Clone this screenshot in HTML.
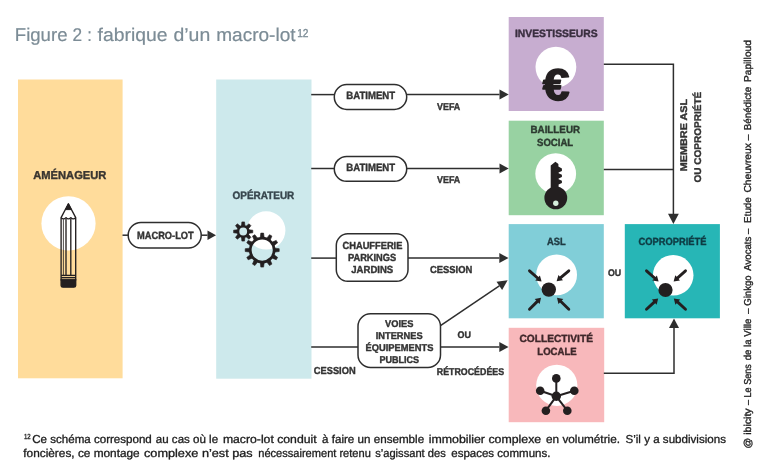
<!DOCTYPE html>
<html lang="fr">
<head>
<meta charset="utf-8">
<title>Figure 2 : fabrique d’un macro-lot</title>
<style>
html,body{margin:0;padding:0;background:#fff;}
body{width:768px;height:475px;overflow:hidden;font-family:"Liberation Sans",sans-serif;}
svg{display:block;will-change:transform;}
svg text{text-rendering:geometricPrecision;}
</style>
</head>
<body>
<svg width="768" height="475" viewBox="0 0 768 475">
<rect width="768" height="475" fill="#ffffff"/>
<rect x="18" y="79.5" width="104.6" height="298.8" fill="#ffdc9b"/>
<rect x="216.2" y="79.5" width="95.3" height="299.2" fill="#cde9ec"/>
<rect x="508.7" y="17" width="95.1" height="94" fill="#c7add0"/>
<rect x="508.7" y="120.7" width="95.1" height="94.5" fill="#98d2a2"/>
<rect x="508.7" y="224.1" width="95.1" height="94.2" fill="#81ced8"/>
<rect x="624.8" y="224.1" width="95.1" height="94.2" fill="#27b6b6"/>
<rect x="508.7" y="327.8" width="95.5" height="94.4" fill="#f8b8bb"/>
<circle cx="68.5" cy="223.4" r="27.1" fill="#fff"/>
<circle cx="266.2" cy="230.4" r="19.2" fill="#fff"/>
<circle cx="555.9" cy="67.1" r="20.4" fill="#fff"/>
<circle cx="555.7" cy="173.7" r="20.4" fill="#fff"/>
<circle cx="556.6" cy="274.9" r="20.4" fill="#fff"/>
<circle cx="673.2" cy="275.3" r="20.3" fill="#fff"/>
<circle cx="556.8" cy="385.3" r="20.6" fill="#fff"/>
<line x1="122.5" y1="235.2" x2="128.2" y2="235.2" stroke="#2e2e2e" stroke-width="1.5"/>
<rect x="128.2" y="222.6" width="73" height="25.4" rx="12.7" fill="#fff" stroke="#2e2e2e" stroke-width="1.5"/>
<line x1="201.2" y1="235.2" x2="207.50" y2="235.20" stroke="#2e2e2e" stroke-width="1.5" stroke-linecap="butt"/><polygon points="216.00,235.20 207.50,239.95 207.50,230.45" fill="#2e2e2e"/>
<line x1="311.2" y1="94.6" x2="334.3" y2="94.6" stroke="#2e2e2e" stroke-width="1.5"/>
<rect x="334.3" y="84.6" width="72.4" height="24.8" rx="12.4" fill="#fff" stroke="#2e2e2e" stroke-width="1.5"/>
<line x1="406.7" y1="94.6" x2="499.50" y2="94.60" stroke="#2e2e2e" stroke-width="1.5" stroke-linecap="butt"/><polygon points="508.70,94.60 499.50,99.60 499.50,89.60" fill="#2e2e2e"/>
<line x1="311.2" y1="168.5" x2="334.3" y2="168.5" stroke="#2e2e2e" stroke-width="1.5"/>
<rect x="334.3" y="156.5" width="72.4" height="24.8" rx="12.4" fill="#fff" stroke="#2e2e2e" stroke-width="1.5"/>
<line x1="406.7" y1="168.5" x2="499.50" y2="168.50" stroke="#2e2e2e" stroke-width="1.5" stroke-linecap="butt"/><polygon points="508.70,168.50 499.50,173.50 499.50,163.50" fill="#2e2e2e"/>
<line x1="311.2" y1="258.1" x2="336.3" y2="258.1" stroke="#2e2e2e" stroke-width="1.5"/>
<rect x="336.3" y="233.8" width="71.7" height="47.5" rx="11.5" fill="#fff" stroke="#2e2e2e" stroke-width="1.5"/>
<line x1="408" y1="258.1" x2="499.30" y2="258.10" stroke="#2e2e2e" stroke-width="1.5" stroke-linecap="butt"/><polygon points="508.50,258.10 499.30,263.10 499.30,253.10" fill="#2e2e2e"/>
<line x1="311.2" y1="347" x2="358" y2="347" stroke="#2e2e2e" stroke-width="1.5"/>
<line x1="440.5" y1="325.6" x2="499.32" y2="285.80" stroke="#2e2e2e" stroke-width="1.5" stroke-linecap="butt"/><polygon points="507.60,280.20 502.12,289.95 496.52,281.66" fill="#2e2e2e"/>
<rect x="358" y="313.8" width="82.5" height="53.6" rx="12.5" fill="#fff" stroke="#2e2e2e" stroke-width="1.5"/>
<line x1="440.5" y1="347" x2="499.30" y2="347.00" stroke="#2e2e2e" stroke-width="1.5" stroke-linecap="butt"/><polygon points="508.50,347.00 499.30,352.00 499.30,342.00" fill="#2e2e2e"/>
<polyline points="603.8,64.3 673.4,64.3 673.4,214" fill="none" stroke="#2e2e2e" stroke-width="1.5"/>
<line x1="603.8" y1="169.4" x2="673.4" y2="169.4" stroke="#2e2e2e" stroke-width="1.5"/>
<polygon points="673.4,224 668,213.8 678.8,213.8" fill="#2e2e2e"/>
<polyline points="603.8,373.3 674,373.3 674,327" fill="none" stroke="#2e2e2e" stroke-width="1.5"/>
<polygon points="674,318.4 669,328 679,328" fill="#2e2e2e"/>
<text x="33.30" y="179" font-family='"Liberation Sans", sans-serif' font-size="11.5" font-weight="bold" fill="#3a3631" stroke="#3a3631" stroke-width="0.4" stroke-linejoin="round" textLength="73.03" lengthAdjust="spacingAndGlyphs" >AMÉNAGEUR</text>
<text x="232.50" y="199.3" font-family='"Liberation Sans", sans-serif' font-size="10.8" font-weight="bold" fill="#37464e" stroke="#37464e" stroke-width="0.4" stroke-linejoin="round" textLength="61.81" lengthAdjust="spacingAndGlyphs" >OPÉRATEUR</text>
<text x="137.00" y="238.8" font-family='"Liberation Sans", sans-serif' font-size="10.5" font-weight="bold" fill="#333333" stroke="#333333" stroke-width="0.4" stroke-linejoin="round" textLength="56.68" lengthAdjust="spacingAndGlyphs" >MACRO-LOT</text>
<text x="346.30" y="98.7" font-family='"Liberation Sans", sans-serif' font-size="10.6" font-weight="bold" fill="#333333" stroke="#333333" stroke-width="0.4" stroke-linejoin="round" textLength="48.82" lengthAdjust="spacingAndGlyphs" >BATIMENT</text>
<text x="346.30" y="171.2" font-family='"Liberation Sans", sans-serif' font-size="10.6" font-weight="bold" fill="#333333" stroke="#333333" stroke-width="0.4" stroke-linejoin="round" textLength="48.82" lengthAdjust="spacingAndGlyphs" >BATIMENT</text>
<text x="437.00" y="109.5" font-family='"Liberation Sans", sans-serif' font-size="9.8" font-weight="bold" fill="#333333" stroke="#333333" stroke-width="0.4" stroke-linejoin="round" textLength="23.27" lengthAdjust="spacingAndGlyphs" >VEFA</text>
<text x="437.00" y="182.6" font-family='"Liberation Sans", sans-serif' font-size="9.8" font-weight="bold" fill="#333333" stroke="#333333" stroke-width="0.4" stroke-linejoin="round" textLength="23.27" lengthAdjust="spacingAndGlyphs" >VEFA</text>
<text x="342.50" y="248.8" font-family='"Liberation Sans", sans-serif' font-size="10.3" font-weight="bold" fill="#333333" stroke="#333333" stroke-width="0.4" stroke-linejoin="round" textLength="59.88" lengthAdjust="spacingAndGlyphs" >CHAUFFERIE</text>
<text x="348.00" y="260.8" font-family='"Liberation Sans", sans-serif' font-size="10.3" font-weight="bold" fill="#333333" stroke="#333333" stroke-width="0.4" stroke-linejoin="round" textLength="48.18" lengthAdjust="spacingAndGlyphs" >PARKINGS</text>
<text x="351.30" y="273" font-family='"Liberation Sans", sans-serif' font-size="10.3" font-weight="bold" fill="#333333" stroke="#333333" stroke-width="0.4" stroke-linejoin="round" textLength="41.88" lengthAdjust="spacingAndGlyphs" >JARDINS</text>
<text x="430.00" y="272.5" font-family='"Liberation Sans", sans-serif' font-size="10.2" font-weight="bold" fill="#333333" stroke="#333333" stroke-width="0.4" stroke-linejoin="round" textLength="42.33" lengthAdjust="spacingAndGlyphs" >CESSION</text>
<text x="385.00" y="326.5" font-family='"Liberation Sans", sans-serif' font-size="9.8" font-weight="bold" fill="#333333" stroke="#333333" stroke-width="0.4" stroke-linejoin="round" textLength="28.36" lengthAdjust="spacingAndGlyphs" >VOIES</text>
<text x="375.80" y="338.7" font-family='"Liberation Sans", sans-serif' font-size="9.8" font-weight="bold" fill="#333333" stroke="#333333" stroke-width="0.4" stroke-linejoin="round" textLength="46.76" lengthAdjust="spacingAndGlyphs" >INTERNES</text>
<text x="365.50" y="350.8" font-family='"Liberation Sans", sans-serif' font-size="9.8" font-weight="bold" fill="#333333" stroke="#333333" stroke-width="0.4" stroke-linejoin="round" textLength="67.86" lengthAdjust="spacingAndGlyphs" >ÉQUIPEMENTS</text>
<text x="379.50" y="363" font-family='"Liberation Sans", sans-serif' font-size="9.8" font-weight="bold" fill="#333333" stroke="#333333" stroke-width="0.4" stroke-linejoin="round" textLength="39.57" lengthAdjust="spacingAndGlyphs" >PUBLICS</text>
<text x="457.50" y="338.2" font-family='"Liberation Sans", sans-serif' font-size="9.6" font-weight="bold" fill="#333333" stroke="#333333" stroke-width="0.4" stroke-linejoin="round" textLength="13.43" lengthAdjust="spacingAndGlyphs" >OU</text>
<text x="313.80" y="373.8" font-family='"Liberation Sans", sans-serif' font-size="10.2" font-weight="bold" fill="#333333" stroke="#333333" stroke-width="0.4" stroke-linejoin="round" textLength="41.83" lengthAdjust="spacingAndGlyphs" >CESSION</text>
<text x="436.80" y="374.8" font-family='"Liberation Sans", sans-serif' font-size="9.8" font-weight="bold" fill="#333333" stroke="#333333" stroke-width="0.4" stroke-linejoin="round" textLength="67.28" lengthAdjust="spacingAndGlyphs" >RÉTROCÉDÉES</text>
<text x="515.00" y="37" font-family='"Liberation Sans", sans-serif' font-size="10.6" font-weight="bold" fill="#3a2f40" stroke="#3a2f40" stroke-width="0.4" stroke-linejoin="round" textLength="82.56" lengthAdjust="spacingAndGlyphs" >INVESTISSEURS</text>
<text x="530.50" y="133" font-family='"Liberation Sans", sans-serif' font-size="10.4" font-weight="bold" fill="#2c3a30" stroke="#2c3a30" stroke-width="0.4" stroke-linejoin="round" textLength="49.53" lengthAdjust="spacingAndGlyphs" >BAILLEUR</text>
<text x="537.00" y="146.2" font-family='"Liberation Sans", sans-serif' font-size="10.4" font-weight="bold" fill="#2c3a30" stroke="#2c3a30" stroke-width="0.4" stroke-linejoin="round" textLength="36.20" lengthAdjust="spacingAndGlyphs" >SOCIAL</text>
<text x="547.00" y="245" font-family='"Liberation Sans", sans-serif' font-size="10.4" font-weight="bold" fill="#1f3a42" stroke="#1f3a42" stroke-width="0.4" stroke-linejoin="round" textLength="18.71" lengthAdjust="spacingAndGlyphs" >ASL</text>
<text x="608.00" y="276.3" font-family='"Liberation Sans", sans-serif' font-size="9.6" font-weight="bold" fill="#333333" stroke="#333333" stroke-width="0.4" stroke-linejoin="round" textLength="13.23" lengthAdjust="spacingAndGlyphs" >OU</text>
<text x="638.50" y="245" font-family='"Liberation Sans", sans-serif' font-size="10.4" font-weight="bold" fill="#0e3c44" stroke="#0e3c44" stroke-width="0.4" stroke-linejoin="round" textLength="67.94" lengthAdjust="spacingAndGlyphs" >COPROPRIÉTÉ</text>
<text x="519.50" y="341.8" font-family='"Liberation Sans", sans-serif' font-size="10.4" font-weight="bold" fill="#40282b" stroke="#40282b" stroke-width="0.4" stroke-linejoin="round" textLength="73.43" lengthAdjust="spacingAndGlyphs" >COLLECTIVITÉ</text>
<text x="537.30" y="355" font-family='"Liberation Sans", sans-serif' font-size="10.4" font-weight="bold" fill="#40282b" stroke="#40282b" stroke-width="0.4" stroke-linejoin="round" textLength="39.44" lengthAdjust="spacingAndGlyphs" >LOCALE</text>
<text transform="translate(687.1,171.3) rotate(-90)" x="0.00" y="0" font-family='"Liberation Sans", sans-serif' font-size="9.7" font-weight="bold" fill="#333333" stroke="#333333" stroke-width="0.4" stroke-linejoin="round" textLength="72.51" lengthAdjust="spacingAndGlyphs">MEMBRE ASL</text>
<text transform="translate(700.9,182.5) rotate(-90)" x="0.00" y="0" font-family='"Liberation Sans", sans-serif' font-size="9.7" font-weight="bold" fill="#333333" stroke="#333333" stroke-width="0.4" stroke-linejoin="round" textLength="90.74" lengthAdjust="spacingAndGlyphs">OU COPROPRIÉTÉ</text>
<text transform="translate(750.5,448.4) rotate(-90)" x="0.00" y="0" font-family='"Liberation Sans", sans-serif' font-size="10" font-weight="normal" fill="#222" stroke="#222" stroke-width="0.35" stroke-linejoin="round" textLength="40.00" lengthAdjust="spacingAndGlyphs">@ ibicity</text>
<text transform="translate(750.5,405) rotate(-90)" x="0.00" y="0" font-family='"Liberation Sans", sans-serif' font-size="10" font-weight="normal" fill="#222" stroke="#222" stroke-width="0.35" stroke-linejoin="round" textLength="40.80" lengthAdjust="spacingAndGlyphs">– Le Sens</text>
<text transform="translate(750.5,360.3) rotate(-90)" x="0.00" y="0" font-family='"Liberation Sans", sans-serif' font-size="10" font-weight="normal" fill="#222" stroke="#222" stroke-width="0.35" stroke-linejoin="round" textLength="41.68" lengthAdjust="spacingAndGlyphs">de la Ville</text>
<text transform="translate(750.5,313.7) rotate(-90)" x="0.00" y="0" font-family='"Liberation Sans", sans-serif' font-size="10" font-weight="normal" fill="#222" stroke="#222" stroke-width="0.35" stroke-linejoin="round" textLength="38.28" lengthAdjust="spacingAndGlyphs">– Ginkgo</text>
<text transform="translate(750.5,270.8) rotate(-90)" x="0.00" y="0" font-family='"Liberation Sans", sans-serif' font-size="10" font-weight="normal" fill="#222" stroke="#222" stroke-width="0.35" stroke-linejoin="round" textLength="42.18" lengthAdjust="spacingAndGlyphs">Avocats –</text>
<text transform="translate(750.5,222.9) rotate(-90)" x="0.00" y="0" font-family='"Liberation Sans", sans-serif' font-size="10" font-weight="normal" fill="#222" stroke="#222" stroke-width="0.35" stroke-linejoin="round" textLength="25.67" lengthAdjust="spacingAndGlyphs">Etude</text>
<text transform="translate(750.5,192.6) rotate(-90)" x="0.00" y="0" font-family='"Liberation Sans", sans-serif' font-size="10" font-weight="normal" fill="#222" stroke="#222" stroke-width="0.35" stroke-linejoin="round" textLength="57.95" lengthAdjust="spacingAndGlyphs">Cheuvreux –</text>
<text transform="translate(750.5,130.2) rotate(-90)" x="0.00" y="0" font-family='"Liberation Sans", sans-serif' font-size="10" font-weight="normal" fill="#222" stroke="#222" stroke-width="0.35" stroke-linejoin="round" textLength="43.47" lengthAdjust="spacingAndGlyphs">Bénédicte</text>
<text transform="translate(750.5,82) rotate(-90)" x="0.00" y="0" font-family='"Liberation Sans", sans-serif' font-size="10" font-weight="normal" fill="#222" stroke="#222" stroke-width="0.35" stroke-linejoin="round" textLength="41.87" lengthAdjust="spacingAndGlyphs">Papilloud</text>
<text x="14.79" y="41.0" font-family='"Liberation Sans", sans-serif' font-size="18.4" font-weight="normal" fill="#7c8c96" stroke="#7c8c96" stroke-width="0.2" stroke-linejoin="round" textLength="52.74" lengthAdjust="spacingAndGlyphs" >Figure</text>
<text x="72.50" y="41.0" font-family='"Liberation Sans", sans-serif' font-size="18.4" font-weight="normal" fill="#7c8c96" stroke="#7c8c96" stroke-width="0.2" stroke-linejoin="round" textLength="9.61" lengthAdjust="spacingAndGlyphs" >2</text>
<text x="87.20" y="41.0" font-family='"Liberation Sans", sans-serif' font-size="18.4" font-weight="normal" fill="#7c8c96" stroke="#7c8c96" stroke-width="0.2" stroke-linejoin="round" textLength="4.60" lengthAdjust="spacingAndGlyphs" >:</text>
<text x="97.50" y="41.0" font-family='"Liberation Sans", sans-serif' font-size="18.4" font-weight="normal" fill="#7c8c96" stroke="#7c8c96" stroke-width="0.2" stroke-linejoin="round" textLength="70.04" lengthAdjust="spacingAndGlyphs" >fabrique</text>
<text x="173.50" y="41.0" font-family='"Liberation Sans", sans-serif' font-size="18.4" font-weight="normal" fill="#7c8c96" stroke="#7c8c96" stroke-width="0.2" stroke-linejoin="round" textLength="36.74" lengthAdjust="spacingAndGlyphs" >d’un</text>
<text x="216.27" y="41.0" font-family='"Liberation Sans", sans-serif' font-size="18.4" font-weight="normal" fill="#7c8c96" stroke="#7c8c96" stroke-width="0.2" stroke-linejoin="round" textLength="79.25" lengthAdjust="spacingAndGlyphs" >macro-lot</text>
<text x="297.20" y="36.8" font-family='"Liberation Sans", sans-serif' font-size="11.5" font-weight="normal" fill="#7c8c96" stroke="#7c8c96" stroke-width="0.35" stroke-linejoin="round" textLength="11.35" lengthAdjust="spacingAndGlyphs" >12</text>
<text x="23.90" y="438.6" font-family='"Liberation Sans", sans-serif' font-size="7.4" font-weight="normal" fill="#1c1c1c" stroke="#1c1c1c" stroke-width="0.32" stroke-linejoin="round" textLength="6.79" lengthAdjust="spacingAndGlyphs" >12</text>
<text x="32.25" y="442.6" font-family='"Liberation Sans", sans-serif' font-size="11.5" font-weight="normal" fill="#1c1c1c" stroke="#1c1c1c" stroke-width="0.32" stroke-linejoin="round" textLength="119.55" lengthAdjust="spacingAndGlyphs" >Ce schéma correspond</text>
<text x="155.80" y="442.6" font-family='"Liberation Sans", sans-serif' font-size="11.5" font-weight="normal" fill="#1c1c1c" stroke="#1c1c1c" stroke-width="0.32" stroke-linejoin="round" textLength="62.30" lengthAdjust="spacingAndGlyphs" >au cas où le</text>
<text x="222.90" y="442.6" font-family='"Liberation Sans", sans-serif' font-size="11.5" font-weight="normal" fill="#1c1c1c" stroke="#1c1c1c" stroke-width="0.32" stroke-linejoin="round" textLength="93.74" lengthAdjust="spacingAndGlyphs" >macro-lot conduit</text>
<text x="322.00" y="442.6" font-family='"Liberation Sans", sans-serif' font-size="11.5" font-weight="normal" fill="#1c1c1c" stroke="#1c1c1c" stroke-width="0.32" stroke-linejoin="round" textLength="102.15" lengthAdjust="spacingAndGlyphs" >à faire un ensemble</text>
<text x="428.75" y="442.6" font-family='"Liberation Sans", sans-serif' font-size="11.5" font-weight="normal" fill="#1c1c1c" stroke="#1c1c1c" stroke-width="0.32" stroke-linejoin="round" textLength="112.47" lengthAdjust="spacingAndGlyphs" >immobilier complexe</text>
<text x="546.00" y="442.6" font-family='"Liberation Sans", sans-serif' font-size="11.5" font-weight="normal" fill="#1c1c1c" stroke="#1c1c1c" stroke-width="0.32" stroke-linejoin="round" textLength="74.00" lengthAdjust="spacingAndGlyphs" >en volumétrie.</text>
<text x="625.50" y="442.6" font-family='"Liberation Sans", sans-serif' font-size="11.5" font-weight="normal" fill="#1c1c1c" stroke="#1c1c1c" stroke-width="0.32" stroke-linejoin="round" textLength="100.45" lengthAdjust="spacingAndGlyphs" >S’il y a subdivisions</text>
<text x="23.30" y="457.2" font-family='"Liberation Sans", sans-serif' font-size="11.5" font-weight="normal" fill="#1c1c1c" stroke="#1c1c1c" stroke-width="0.32" stroke-linejoin="round" textLength="116.41" lengthAdjust="spacingAndGlyphs" >foncières, ce montage</text>
<text x="144.00" y="457.2" font-family='"Liberation Sans", sans-serif' font-size="11.5" font-weight="normal" fill="#1c1c1c" stroke="#1c1c1c" stroke-width="0.32" stroke-linejoin="round" textLength="108.72" lengthAdjust="spacingAndGlyphs" >complexe n’est pas</text>
<text x="258.30" y="457.2" font-family='"Liberation Sans", sans-serif' font-size="11.5" font-weight="normal" fill="#1c1c1c" stroke="#1c1c1c" stroke-width="0.32" stroke-linejoin="round" textLength="112.48" lengthAdjust="spacingAndGlyphs" >nécessairement retenu</text>
<text x="375.20" y="457.2" font-family='"Liberation Sans", sans-serif' font-size="11.5" font-weight="normal" fill="#1c1c1c" stroke="#1c1c1c" stroke-width="0.32" stroke-linejoin="round" textLength="70.56" lengthAdjust="spacingAndGlyphs" >s’agissant des</text>
<text x="451.25" y="457.2" font-family='"Liberation Sans", sans-serif' font-size="11.5" font-weight="normal" fill="#1c1c1c" stroke="#1c1c1c" stroke-width="0.32" stroke-linejoin="round" textLength="99.15" lengthAdjust="spacingAndGlyphs" >espaces communs.</text>
<g stroke="#231f20" stroke-width="1.35" fill="none" stroke-linejoin="round">
<path d="M61.1 217.6 L68.4 203.8 L75.7 217.6 L75.7 280 L61.1 280 Z"/>
<path d="M61.1 217.6 q2.45 2.6 4.9 0 q2.4 2.6 4.8 0 q2.45 2.6 4.9 0"/>
<line x1="66" y1="218.6" x2="66" y2="275.4"/>
<line x1="70.8" y1="218.6" x2="70.8" y2="275.4"/>
<line x1="63.4" y1="219.2" x2="63.4" y2="275.4" stroke-width="0.8"/>
<line x1="61.1" y1="275.4" x2="75.7" y2="275.4"/>
<line x1="61.1" y1="277.7" x2="75.7" y2="277.7"/>
</g>
<path d="M68.4 203.8 L65.4 209.6 L71.4 209.6 Z" fill="#231f20" stroke="#231f20" stroke-width="1" stroke-linejoin="round"/>
<path d="M61.1 280 H75.7 V285.4 q0 1.8 -1.8 1.8 H62.9 q-1.8 0 -1.8 -1.8 Z" fill="#231f20" stroke="#231f20" stroke-width="1.35"/>
<circle cx="243.2" cy="231.5" r="5.15" fill="none" stroke="#231f20" stroke-width="2.50"/>
<polygon points="244.95,225.70 244.50,221.90 241.90,221.90 241.45,225.70" fill="#231f20" stroke="#231f20" stroke-width="0.6" stroke-linejoin="round"/>
<polygon points="240.34,226.16 237.33,223.79 235.49,225.63 237.86,228.64" fill="#231f20" stroke="#231f20" stroke-width="0.6" stroke-linejoin="round"/>
<polygon points="237.40,229.75 233.60,230.20 233.60,232.80 237.40,233.25" fill="#231f20" stroke="#231f20" stroke-width="0.6" stroke-linejoin="round"/>
<polygon points="237.86,234.36 235.49,237.37 237.33,239.21 240.34,236.84" fill="#231f20" stroke="#231f20" stroke-width="0.6" stroke-linejoin="round"/>
<polygon points="241.45,237.30 241.90,241.10 244.50,241.10 244.95,237.30" fill="#231f20" stroke="#231f20" stroke-width="0.6" stroke-linejoin="round"/>
<polygon points="246.06,236.84 249.07,239.21 250.91,237.37 248.54,234.36" fill="#231f20" stroke="#231f20" stroke-width="0.6" stroke-linejoin="round"/>
<polygon points="249.00,233.25 252.80,232.80 252.80,230.20 249.00,229.75" fill="#231f20" stroke="#231f20" stroke-width="0.6" stroke-linejoin="round"/>
<polygon points="248.54,228.64 250.91,225.63 249.07,223.79 246.06,226.16" fill="#231f20" stroke="#231f20" stroke-width="0.6" stroke-linejoin="round"/>
<circle cx="262.2" cy="250.1" r="11.95" fill="none" stroke="#231f20" stroke-width="2.70"/>
<polygon points="264.15,237.40 263.60,233.10 260.80,233.10 260.25,237.40" fill="#231f20" stroke="#231f20" stroke-width="0.6" stroke-linejoin="round"/>
<polygon points="257.54,238.13 254.91,234.68 252.49,236.08 254.16,240.08" fill="#231f20" stroke="#231f20" stroke-width="0.6" stroke-linejoin="round"/>
<polygon points="252.18,242.06 248.18,240.39 246.78,242.81 250.23,245.44" fill="#231f20" stroke="#231f20" stroke-width="0.6" stroke-linejoin="round"/>
<polygon points="249.50,248.15 245.20,248.70 245.20,251.50 249.50,252.05" fill="#231f20" stroke="#231f20" stroke-width="0.6" stroke-linejoin="round"/>
<polygon points="250.23,254.76 246.78,257.39 248.18,259.81 252.18,258.14" fill="#231f20" stroke="#231f20" stroke-width="0.6" stroke-linejoin="round"/>
<polygon points="254.16,260.12 252.49,264.12 254.91,265.52 257.54,262.07" fill="#231f20" stroke="#231f20" stroke-width="0.6" stroke-linejoin="round"/>
<polygon points="260.25,262.80 260.80,267.10 263.60,267.10 264.15,262.80" fill="#231f20" stroke="#231f20" stroke-width="0.6" stroke-linejoin="round"/>
<polygon points="266.86,262.07 269.49,265.52 271.91,264.12 270.24,260.12" fill="#231f20" stroke="#231f20" stroke-width="0.6" stroke-linejoin="round"/>
<polygon points="272.22,258.14 276.22,259.81 277.62,257.39 274.17,254.76" fill="#231f20" stroke="#231f20" stroke-width="0.6" stroke-linejoin="round"/>
<polygon points="274.90,252.05 279.20,251.50 279.20,248.70 274.90,248.15" fill="#231f20" stroke="#231f20" stroke-width="0.6" stroke-linejoin="round"/>
<polygon points="274.17,245.44 277.62,242.81 276.22,240.39 272.22,242.06" fill="#231f20" stroke="#231f20" stroke-width="0.6" stroke-linejoin="round"/>
<polygon points="270.24,240.08 271.91,236.08 269.49,234.68 266.86,238.13" fill="#231f20" stroke="#231f20" stroke-width="0.6" stroke-linejoin="round"/>
<text transform="translate(556.2,100.2) scale(1.12,1.03)" x="0" y="0" text-anchor="middle" font-family='"Liberation Sans", sans-serif' font-size="43" font-weight="bold" fill="#231f20" stroke="#231f20" stroke-width="1.5" stroke-linejoin="round">€</text>
<g fill="#231f20">
<circle cx="555.8" cy="197.9" r="11.4"/>
<path d="M550.7 190 V165.4 L555.4 161.7 L558.4 164 V166.6 L561.9 168.4 V171 L558.6 172.6 V173.2 L561.9 174.8 V177 L558.6 178.6 V179.2 L561.9 180.8 V183 L558.6 184.6 V190 Z"/>
</g>
<circle cx="555.8" cy="203.2" r="2.7" fill="#d6eedc"/>
<circle cx="548.8" cy="289.6" r="7.2" fill="#231f20"/>
<line x1="529.5" y1="270.8" x2="537.57" y2="278.00" stroke="#231f20" stroke-width="2.9" stroke-linecap="round"/><polygon points="541.60,281.60 535.24,280.62 539.90,275.39" fill="#231f20"/>
<line x1="568.8" y1="270.8" x2="560.71" y2="277.70" stroke="#231f20" stroke-width="2.9" stroke-linecap="round"/><polygon points="556.60,281.20 558.44,275.03 562.98,280.36" fill="#231f20"/>
<line x1="529.5" y1="309.2" x2="537.16" y2="301.60" stroke="#231f20" stroke-width="2.9" stroke-linecap="round"/><polygon points="541.00,297.80 539.63,304.09 534.70,299.12" fill="#231f20"/>
<line x1="568.8" y1="309.2" x2="560.88" y2="301.55" stroke="#231f20" stroke-width="2.9" stroke-linecap="round"/><polygon points="557.00,297.80 563.32,299.03 558.45,304.07" fill="#231f20"/>
<circle cx="665.5" cy="290" r="7.1" fill="#231f20"/>
<line x1="646.5" y1="270.8" x2="654.57" y2="278.00" stroke="#231f20" stroke-width="2.9" stroke-linecap="round"/><polygon points="658.60,281.60 652.24,280.62 656.90,275.39" fill="#231f20"/>
<line x1="685.5" y1="270.8" x2="677.63" y2="277.81" stroke="#231f20" stroke-width="2.9" stroke-linecap="round"/><polygon points="673.60,281.40 675.30,275.19 679.96,280.42" fill="#231f20"/>
<line x1="646.5" y1="309.2" x2="654.23" y2="302.06" stroke="#231f20" stroke-width="2.9" stroke-linecap="round"/><polygon points="658.20,298.40 656.61,304.63 651.86,299.49" fill="#231f20"/>
<line x1="685.5" y1="309.2" x2="677.77" y2="302.06" stroke="#231f20" stroke-width="2.9" stroke-linecap="round"/><polygon points="673.80,298.40 680.14,299.49 675.39,304.63" fill="#231f20"/>
<line x1="556.3" y1="396.3" x2="556.3" y2="378.4" stroke="#231f20" stroke-width="2"/>
<line x1="556.3" y1="396.3" x2="540.2" y2="390.8" stroke="#231f20" stroke-width="2"/>
<line x1="556.3" y1="396.3" x2="574.3" y2="390.8" stroke="#231f20" stroke-width="2"/>
<line x1="556.3" y1="396.3" x2="545.9" y2="410.7" stroke="#231f20" stroke-width="2"/>
<line x1="556.3" y1="396.3" x2="567.3" y2="410.7" stroke="#231f20" stroke-width="2"/>
<circle cx="556.3" cy="378.4" r="4.3" fill="#231f20"/>
<circle cx="540.2" cy="390.8" r="4.3" fill="#231f20"/>
<circle cx="574.3" cy="390.8" r="4.3" fill="#231f20"/>
<circle cx="545.9" cy="410.7" r="4.3" fill="#231f20"/>
<circle cx="567.3" cy="410.7" r="4.3" fill="#231f20"/>
<circle cx="556.3" cy="396.3" r="4.7" fill="#231f20"/>
</svg>
</body>
</html>
